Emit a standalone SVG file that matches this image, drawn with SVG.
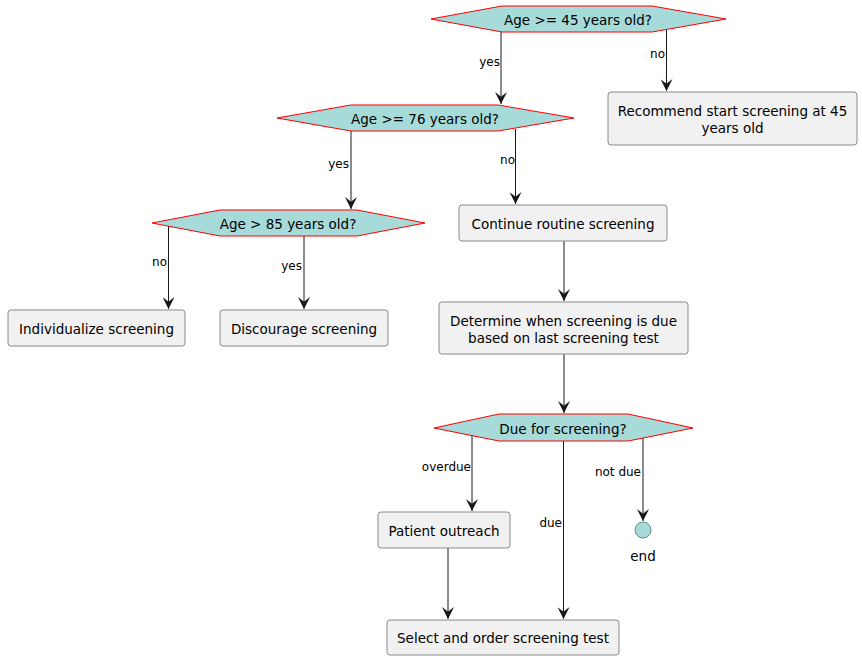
<svg xmlns="http://www.w3.org/2000/svg" width="862" height="660" viewBox="0 0 862 660">
  <style>
    .dec polygon { fill: #A6DBD9; stroke: #FF0000; stroke-width: 1; }
    .act rect { fill: #F1F1F1; stroke: #8A8A8A; stroke-width: 1; }
    .node-text { font-family: "DejaVu Sans", Verdana, sans-serif; font-size: 13.5px; fill: #000; text-anchor: middle; }
    .lbl { font-family: "DejaVu Sans", Verdana, sans-serif; font-size: 12px; fill: #000; text-anchor: end; }
    .edge { fill: none; stroke: #181818; stroke-width: 1; }
  </style>
  <defs>
    <marker id="arrow" markerWidth="12" markerHeight="12" refX="10" refY="5" orient="auto" markerUnits="userSpaceOnUse" viewBox="0 0 10 10">
      <path d="M0,0 L10,5 L0,10 L4,5 Z" fill="#181818"/>
    </marker>
  </defs>
  <rect width="862" height="660" fill="#FFFFFF"/>

  <!-- connectors -->
  <g id="connectors">
    <line class="edge" x1="501" y1="32" x2="501" y2="104" marker-end="url(#arrow)"/>
    <text class="lbl" x="500" y="66">yes</text>
    <line class="edge" x1="666.5" y1="30" x2="666.5" y2="91" marker-end="url(#arrow)"/>
    <text class="lbl" x="665" y="58">no</text>

    <line class="edge" x1="351" y1="131" x2="351" y2="209" marker-end="url(#arrow)"/>
    <text class="lbl" x="349" y="168">yes</text>
    <line class="edge" x1="515.5" y1="129" x2="515.5" y2="204" marker-end="url(#arrow)"/>
    <text class="lbl" x="515" y="164">no</text>

    <line class="edge" x1="168.5" y1="226" x2="168.5" y2="309" marker-end="url(#arrow)"/>
    <text class="lbl" x="167" y="266">no</text>
    <line class="edge" x1="304" y1="236" x2="304" y2="309" marker-end="url(#arrow)"/>
    <text class="lbl" x="302" y="270">yes</text>

    <line class="edge" x1="564" y1="241" x2="564" y2="301" marker-end="url(#arrow)"/>
    <line class="edge" x1="564" y1="354" x2="564" y2="413" marker-end="url(#arrow)"/>

    <line class="edge" x1="472" y1="436" x2="472" y2="511" marker-end="url(#arrow)"/>
    <text class="lbl" x="471" y="471">overdue</text>
    <line class="edge" x1="563.5" y1="441" x2="563.5" y2="619" marker-end="url(#arrow)"/>
    <text class="lbl" x="562" y="527">due</text>
    <line class="edge" x1="643" y1="438" x2="643" y2="521" marker-end="url(#arrow)"/>
    <text class="lbl" x="641" y="476">not due</text>

    <line class="edge" x1="448" y1="548" x2="448" y2="619" marker-end="url(#arrow)"/>
  </g>

  <!-- decisions -->
  <g id="age45" class="dec">
    <polygon points="431,19 502,6 652,6 726,19 652,32 502,32"/>
    <text class="node-text" x="578" y="24.5">Age &gt;= 45 years old?</text>
  </g>
  <g id="age76" class="dec">
    <polygon points="277,118 351,105 498,105 574,118 498,131 351,131"/>
    <text class="node-text" x="425" y="123.5">Age &gt;= 76 years old?</text>
  </g>
  <g id="age85" class="dec">
    <polygon points="152,223 220,210 357,210 425,223 357,236 220,236"/>
    <text class="node-text" x="288" y="228.5">Age &gt; 85 years old?</text>
  </g>
  <g id="due" class="dec">
    <polygon points="434,428 499,414 628,414 693,428 628,441 499,441"/>
    <text class="node-text" x="563" y="433.5">Due for screening?</text>
  </g>

  <!-- activities -->
  <g id="recommend" class="act">
    <rect x="608" y="92" width="249" height="53" rx="3"/>
    <text class="node-text" x="732.5" y="116">Recommend start screening at 45</text>
    <text class="node-text" x="732.5" y="133">years old</text>
  </g>
  <g id="continue" class="act">
    <rect x="459" y="205" width="208" height="36" rx="3"/>
    <text class="node-text" x="563" y="229">Continue routine screening</text>
  </g>
  <g id="individualize" class="act">
    <rect x="8" y="310" width="177" height="36" rx="3"/>
    <text class="node-text" x="96.5" y="334">Individualize screening</text>
  </g>
  <g id="discourage" class="act">
    <rect x="220" y="310" width="168" height="36" rx="3"/>
    <text class="node-text" x="304" y="334">Discourage screening</text>
  </g>
  <g id="determine" class="act">
    <rect x="439" y="302" width="249" height="52" rx="3"/>
    <text class="node-text" x="563.5" y="326">Determine when screening is due</text>
    <text class="node-text" x="563.5" y="343">based on last screening test</text>
  </g>
  <g id="outreach" class="act">
    <rect x="378" y="512" width="132" height="36" rx="3"/>
    <text class="node-text" x="444" y="536">Patient outreach</text>
  </g>
  <g id="select" class="act">
    <rect x="387" y="620" width="232" height="35" rx="3"/>
    <text class="node-text" x="503" y="643">Select and order screening test</text>
  </g>

  <!-- terminal -->
  <g id="end">
    <circle cx="643" cy="530" r="8" fill="#A6DBD9" stroke="#6E8A8A" stroke-width="1"/>
    <text class="node-text" x="643" y="561">end</text>
  </g>
</svg>
